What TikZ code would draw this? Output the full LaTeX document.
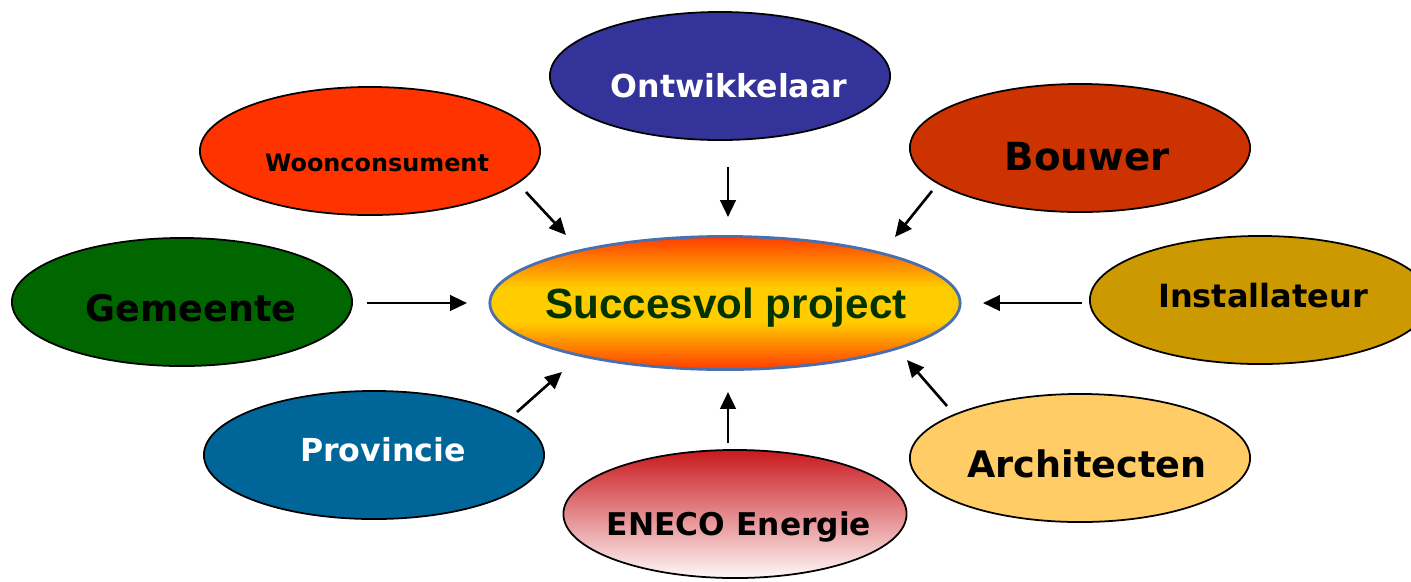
\documentclass[tikz,border=0pt]{standalone}
\usepackage{fontspec}
\setmainfont{DejaVu Sans}
\newfontfamily\projfont{Liberation Sans}
\usetikzlibrary{shapes.geometric,arrows.meta}
\definecolor{ontblue}{HTML}{333399}
\definecolor{woonred}{HTML}{FF3300}
\definecolor{bouwred}{HTML}{CC3300}
\definecolor{gemgreen}{HTML}{006600}
\definecolor{instgold}{HTML}{CC9900}
\definecolor{provblue}{HTML}{006699}
\definecolor{archyellow}{HTML}{FFCC66}
\definecolor{projrand}{HTML}{4A6FAE}
\definecolor{projred}{HTML}{FF3C00}
\definecolor{projyellow}{HTML}{FFCC00}
\definecolor{projtext}{HTML}{003300}
\definecolor{enecored}{HTML}{C8191E}
\definecolor{enecowhite}{HTML}{FFF8F8}
\pgfdeclareverticalshading{projshade}{100bp}{color(0bp)=(projred); color(25bp)=(projred);
    color(43bp)=(projyellow); color(56bp)=(projyellow); color(75bp)=(projred); color(100bp)=(projred)}
\begin{document}
\begin{tikzpicture}[x=0.01cm,y=-0.01cm,
    blob/.style={ellipse,draw=black,line width=0.5pt,inner sep=0pt,minimum width=3.4cm,minimum height=1.28cm},
    tag/.style={anchor=base,inner sep=0pt},
    >={Triangle[length=4.8pt,width=4.4pt]}]
    \useasboundingbox (0,0) rectangle (1411,581);
    % de partijen rond het project
    \foreach \n/\x/\y/\c in {ont/720/76/ontblue,woon/370/151/woonred,bouw/1080/148/bouwred,gem/182/302/gemgreen,inst/1260/300/instgold,prov/374/455/provblue,arch/1080/458/archyellow}
        \node[blob,fill=\c] (\n) at (\x,\y) {};
    \node[blob,minimum width=4.7cm,minimum height=1.33cm,draw=projrand,line width=0.8pt,shading=projshade] (proj) at (725,303) {};
    \node[blob,minimum width=3.43cm,top color=enecored,bottom color=enecowhite] (eneco) at (735,514) {};
    % teksten
    \foreach \n/\x/\y/\s/\k/\t in {ont/729/97/9/white/Ontwikkelaar,woon/377/171/6.8/black/Woonconsument,
        bouw/1087/170/11/black/Bouwer,gem/191/321/10.4/black/Gemeente,inst/1263/307/9.1/black/Installateur,
        prov/383/461/9/white/Provincie,arch/1087/477/10.4/black/Architecten,eneco/739/535/8.9/black/ENECO Energie}
        \node[tag,text=\k,font=\bfseries\fontsize{\s}{\s}\selectfont] (\n-t) at (\x,\y) {\t};
    \node[tag,text=projtext,font=\projfont\bfseries\fontsize{12}{12}\selectfont] (proj-t) at (726,318) {Succesvol project};
    % pijlen naar het midden
    \foreach \n/\x/\y/\u/\v in {ont/728/167/728/217,woon/526/192/566/235,bouw/932/191/895/237,gem/367/303/467/303,
        inst/1082/303/983/303,prov/517/412/562/372,arch/947/406/907/360,eneco/728/443/728/392}{
        \coordinate (\n-a) at (\x,\y);
        \coordinate (\n-b) at (\u,\v);
        \draw[->,line width=0.75pt] (\n-a)--(\n-b);
    }
\end{tikzpicture}
\end{document}
